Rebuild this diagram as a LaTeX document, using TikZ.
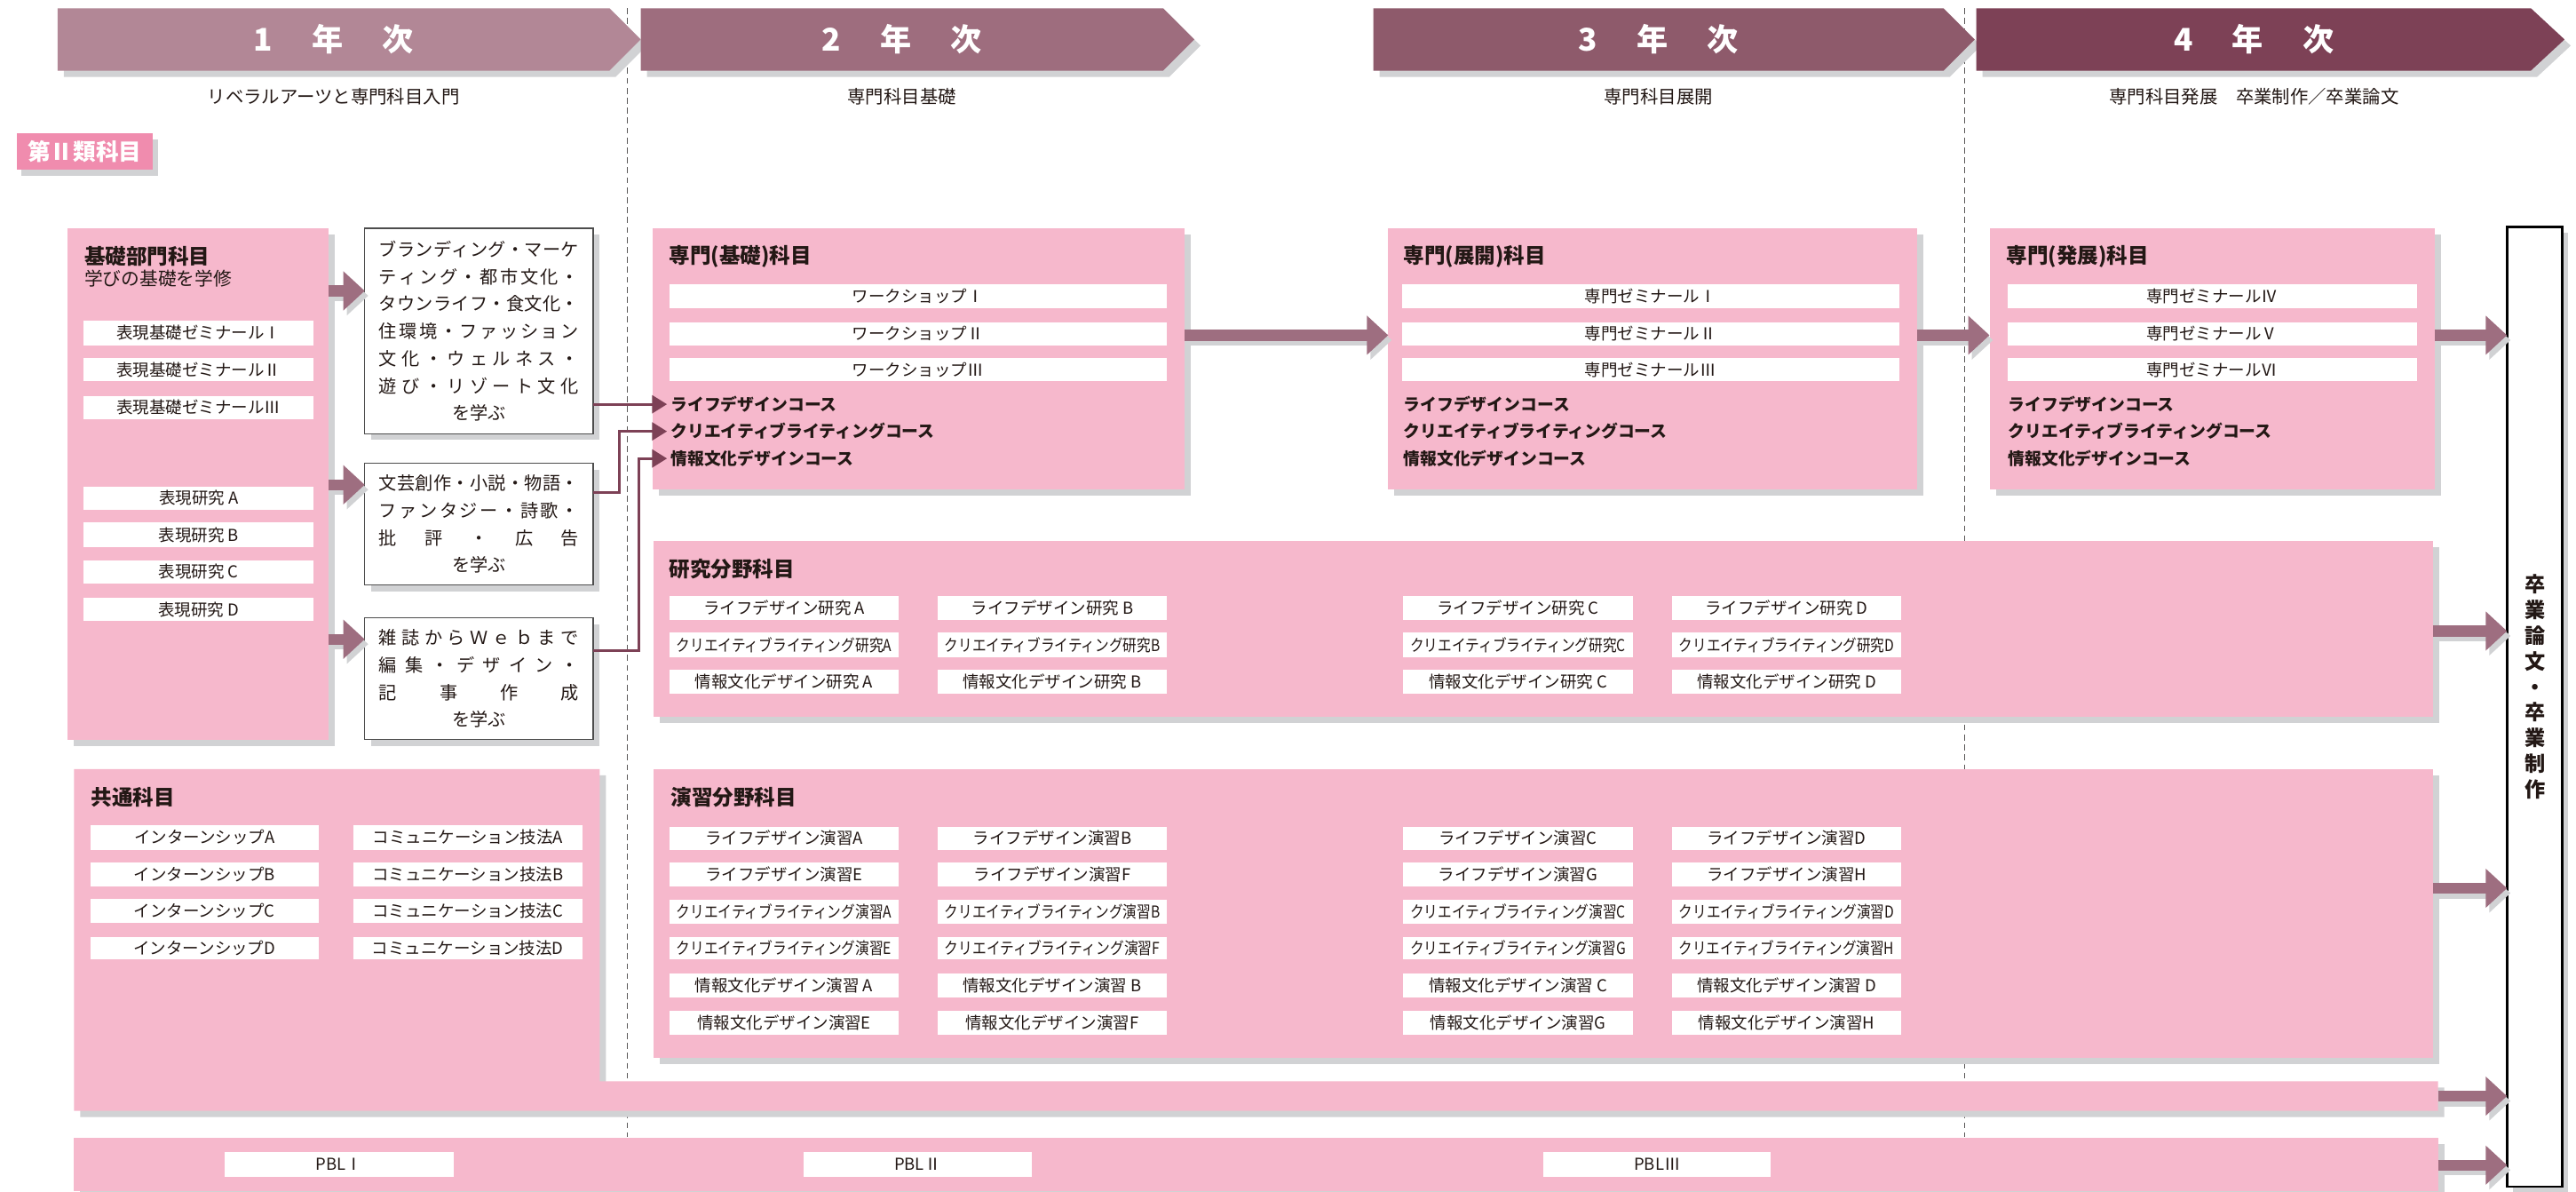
\documentclass[tikz,border=0pt]{standalone}
\usepackage{fontspec}
\setmainfont{Noto Sans CJK JP}
\usepackage{graphicx}
\usetikzlibrary{arrows.meta,shadows,fit}

\definecolor{pinkbox}{HTML}{F6B8CC}
\definecolor{shadowg}{HTML}{D1D2D4}
\definecolor{ban1}{HTML}{B28796}
\definecolor{ban2}{HTML}{9E6D7E}
\definecolor{ban3}{HTML}{8E5A6B}
\definecolor{ban4}{HTML}{7D4156}
\definecolor{arrowc}{HTML}{9E6E80}
\definecolor{linec}{HTML}{7D4156}
\definecolor{labelpink}{HTML}{F08CAE}
\definecolor{txt}{HTML}{231815}
\definecolor{boxline}{HTML}{4D4D4D}
\definecolor{dashc}{HTML}{595757}

\def\P{0.185mm}
\newcommand\fsz[2]{\fontsize{#1}{#2}\selectfont}
\newcommand\rowfont{\fsz{5.26}{6.3}}
\newcommand\titlefont{\bfseries\fsz{6.7}{8}}
\newcommand\coursefont{\bfseries\fsz{5.35}{6.4}}
\newcommand\boxfont{\fsz{5.75}{8.74}}

\newsavebox\fitbox
\newcommand\fitto[2]{\sbox\fitbox{#2}\ifdim\wd\fitbox>#1\relax\resizebox{#1}{\height}{\usebox\fitbox}\else\usebox\fitbox\fi}

\def\gobbleone#1{}
\def\sprd#1{#1\futurelet\sprdnext\sprdaux}
\def\sprdaux{\ifx\sprdnext\relax\expandafter\gobbleone\else\hfil\expandafter\sprd\fi}
\newcommand\jl[1]{\leavevmode\hbox to 64pt{\sprd#1\relax}}

\tikzset{
  boxshadow/.style={drop shadow={shadow xshift=0.7mm, shadow yshift=-0.7mm, fill=shadowg, opacity=1}},
  pinkb/.style={fill=pinkbox, inner sep=0pt, outer sep=0pt, boxshadow},
  rowbox/.style={fill=white, inner sep=0pt, outer sep=0pt, text=txt, font=\rowfont, anchor=north west},
  wbox/.style={fill=white, draw=boxline, line width=0.15mm, inner sep=0pt, outer sep=0pt, boxshadow},
  titletext/.style={anchor=west, inner sep=0pt, text=txt, font=\titlefont},
  course/.style={anchor=west, inner sep=0.37mm, text=txt, font=\coursefont},
  bigarr/.style={draw=arrowc, line width=1.24mm, -{Triangle[length=2.4mm, width=4.26mm]}},
  bigsh/.style={draw=shadowg, line width=1.24mm, -{Triangle[length=2.4mm, width=4.26mm]}, transform canvas={xshift=0.4mm, yshift=-0.55mm}},
  conn/.style={draw=linec, line width=0.28mm, -{Triangle[length=1.67mm, width=2.0mm]}},
  dashline/.style={draw=dashc, line width=0.1mm, dash pattern=on 0.67mm off 0.45mm},
  bantext/.style={text=white, font=\bfseries\fsz{10}{12}, inner sep=0pt},
  subhead/.style={text=txt, font=\fsz{5.8}{7}, inner sep=0pt}
}
\newcommand\rb[6]{\node[rowbox, minimum width={(#4-#2)*\P}, minimum height={(#5-#3)*\P}] (#1) at (#2,#3) {\fitto{69pt}{#6}};}
\newcommand\bigarrow[2]{\draw[bigsh] #1 -- #2; \draw[bigarr] #1 -- #2;}

\begin{document}
\begin{tikzpicture}[x=0.185mm, y=-0.185mm]
\path[use as bounding box, fill=white] (0,0) rectangle (1568,725);

% dashed year separators
\coordinate (d1t) at (382,5); \coordinate (d1b) at (382,692);
\coordinate (d2t) at (1196,5); \coordinate (d2b) at (1196,692);
\draw[dashline] (d1t) -- (d1b);
\draw[dashline] (d2t) -- (d2b);

% banners
\fill[ban1, boxshadow] (35,5) -- (371,5) -- (390,24) -- (371,43) -- (35,43) -- cycle;
\fill[ban2, boxshadow] (390,5) -- (708,5) -- (727,24) -- (708,43) -- (390,43) -- cycle;
\fill[ban3, boxshadow] (836,5) -- (1183,5) -- (1202,24) -- (1183,43) -- (836,43) -- cycle;
\fill[ban4, boxshadow] (1203,5) -- (1540.5,5) -- (1561,24) -- (1540.5,43) -- (1203,43) -- cycle;
\node[bantext] (b1) at (203,24) {1\hspace{1.25em}年\hspace{1.25em}次};
\node[bantext] (b2) at (549,24) {2\hspace{1.25em}年\hspace{1.25em}次};
\node[bantext] (b3) at (1009.5,24) {3\hspace{1.25em}年\hspace{1.25em}次};
\node[bantext] (b4) at (1372,24) {4\hspace{1.25em}年\hspace{1.25em}次};
\node[subhead] (s1) at (203,58.6) {リベラルアーツと専門科目入門};
\node[subhead] (s2) at (549,58.6) {専門科目基礎};
\node[subhead] (s3) at (1009.5,58.6) {専門科目展開};
\node[subhead] (s4) at (1372,58.6) {専門科目発展　卒業制作／卒業論文};

% category label
\node[fill=labelpink, inner sep=0pt, outer sep=0pt, drop shadow={shadow xshift=0.55mm, shadow yshift=-0.7mm, fill=shadowg, opacity=1}, fit={(10,81) (93,103)}] (cat) {};
\node[text=white, font=\bfseries\fsz{7.3}{8.5}, inner sep=0pt] (catT) at (cat.center) {第Ⅱ類科目};

% ---------- big boxes ----------
\node[pinkb, fit={(41,139) (200,450)}] (kiso) {};
\node[wbox, fit={(222,139) (361,264)}] (tb1) {};
\node[wbox, fit={(222,282) (361,356)}] (tb2) {};
\node[wbox, fit={(222,376) (361,450)}] (tb3) {};
\node[pinkb, fit={(397.5,139) (721,298)}] (senA) {};
\node[pinkb, fit={(845,139) (1167,298)}] (senB) {};
\node[pinkb, fit={(1211,139) (1482,298)}] (senC) {};
\node[pinkb, fit={(398,329) (1481,436)}] (kenkyu) {};
\node[pinkb, fit={(398,468) (1481,644)}] (enshu) {};
\fill[pinkbox, boxshadow] (45,468) -- (365,468) -- (365,658) -- (1484,658) -- (1484,676) -- (45,676) -- cycle;
\coordinate (kyotsuEnd) at (1484,667);
\node[pinkb, fit={(45,692.5) (1484,725)}] (pbl) {};
\node[fill=white, draw=black, line width=0.25mm, inner sep=0pt, outer sep=0pt, boxshadow, fit={(1526,138) (1559.5,722)}] (grad) {};
\node[font=\bfseries\fsz{6.6}{8.2}, align=center, text=txt, inner sep=0pt] (gradT) at (1543,418) {卒\\業\\論\\文\\・\\卒\\業\\制\\作};

% ---------- kiso ----------
\node[titletext] (kisoT) at (51,156) {基礎部門科目};
\node[anchor=west, inner sep=0pt, text=txt, font=\fsz{5.9}{7}] (kisoS) at (51,169.5) {学びの基礎を学修};
\rb{kr1}{51}{195}{191}{210}{表現基礎ゼミナールⅠ}
\rb{kr2}{51}{218}{191}{232}{表現基礎ゼミナールⅡ}
\rb{kr3}{51}{241}{191}{255}{表現基礎ゼミナールⅢ}
\rb{kr4}{51}{296}{191}{310}{表現研究 A}
\rb{kr5}{51}{318}{191}{333}{表現研究 B}
\rb{kr6}{51}{341}{191}{355}{表現研究 C}
\rb{kr7}{51}{364}{191}{378}{表現研究 D}

\node[font=\boxfont, text=txt, align=center, text width=64pt, inner sep=0pt] (tb1T) at (tb1.center)
 {\jl{ブランディング・マーケ}\\\jl{ティング・都市文化・}\\\jl{タウンライフ・食文化・}\\\jl{住環境・ファッション}\\\jl{文化・ウェルネス・}\\\jl{遊び・リゾート文化}\\を学ぶ};
\node[font=\boxfont, text=txt, align=center, text width=64pt, inner sep=0pt] (tb2T) at (tb2.center)
 {\jl{文芸創作・小説・物語・}\\\jl{ファンタジー・詩歌・}\\\jl{批評・広告}\\を学ぶ};
\node[font=\boxfont, text=txt, align=center, text width=64pt, inner sep=0pt] (tb3T) at (tb3.center)
 {\jl{雑誌からＷｅｂまで}\\\jl{編集・デザイン・}\\\jl{記事作成}\\を学ぶ};

% ---------- senmon ----------
\node[titletext] (senAT) at (407,156) {専門(基礎)科目};
\node[titletext] (senBT) at (854,156) {専門(展開)科目};
\node[titletext] (senCT) at (1221,156) {専門(発展)科目};
\rb{wa1}{407.5}{173}{710}{187.5}{ワークショップⅠ}
\rb{wa2}{407.5}{196}{710}{210}{ワークショップⅡ}
\rb{wa3}{407.5}{218}{710}{232}{ワークショップⅢ}
\rb{wb1}{853.5}{173}{1156}{187.5}{専門ゼミナールⅠ}
\rb{wb2}{853.5}{196}{1156}{210}{専門ゼミナールⅡ}
\rb{wb3}{853.5}{218}{1156}{232}{専門ゼミナールⅢ}
\rb{wc1}{1222}{173}{1471}{187.5}{専門ゼミナールⅣ}
\rb{wc2}{1222}{196}{1471}{210}{専門ゼミナールⅤ}
\rb{wc3}{1222}{218}{1471}{232}{専門ゼミナールⅥ}
\node[course] (ca1) at (406,246) {ライフデザインコース};
\node[course] (ca2) at (406,262.5) {クリエイティブライティングコース};
\node[course] (ca3) at (406,279) {情報文化デザインコース};
\node[course] (cb1) at (852,246) {ライフデザインコース};
\node[course] (cb2) at (852,262.5) {クリエイティブライティングコース};
\node[course] (cb3) at (852,279) {情報文化デザインコース};
\node[course] (cc1) at (1220,246) {ライフデザインコース};
\node[course] (cc2) at (1220,262.5) {クリエイティブライティングコース};
\node[course] (cc3) at (1220,279) {情報文化デザインコース};

% ---------- kenkyu ----------
\node[titletext] (kenT) at (407,346) {研究分野科目};
\foreach \c/\xa/\xb/\L in {1/407.5/547/A, 2/571/710/B, 3/854/994/C, 4/1018/1157/D}{
  \rb{k1\c}{\xa}{362.7}{\xb}{377}{ライフデザイン研究 \L}
  \rb{k2\c}{\xa}{385}{\xb}{400}{クリエイティブライティング研究\L}
  \rb{k3\c}{\xa}{407.6}{\xb}{422}{情報文化デザイン研究 \L}
}

% ---------- enshu ----------
\node[titletext] (ensT) at (408,485) {演習分野科目};
\foreach \c/\xa/\xb/\La/\Lb in {1/407.5/547/A/E, 2/571/710/B/F, 3/854/994/C/G, 4/1018/1157/D/H}{
  \rb{e1\c}{\xa}{503}{\xb}{517}{ライフデザイン演習\La}
  \rb{e2\c}{\xa}{525}{\xb}{539.5}{ライフデザイン演習\Lb}
  \rb{e3\c}{\xa}{547.6}{\xb}{562}{クリエイティブライティング演習\La}
  \rb{e4\c}{\xa}{570}{\xb}{584}{クリエイティブライティング演習\Lb}
  \rb{e5\c}{\xa}{592.4}{\xb}{607}{情報文化デザイン演習 \La}
  \rb{e6\c}{\xa}{615}{\xb}{629.7}{情報文化デザイン演習\Lb}
}

% ---------- kyotsu ----------
\node[titletext] (kyoT) at (55,485) {共通科目};
\foreach \r/\ya/\yb/\L in {1/502/517/A, 2/525/539.5/B, 3/547/561.6/C, 4/570/584/D}{
  \rb{ki\r}{55}{\ya}{194}{\yb}{インターンシップ\L}
  \rb{kc\r}{215}{\ya}{354.5}{\yb}{コミュニケーション技法\L}
}

% ---------- PBL ----------
\rb{p1}{137}{701}{276}{716}{PBLⅠ}
\rb{p2}{489}{701}{628}{716}{PBLⅡ}
\rb{p3}{939.5}{701}{1078}{716}{PBLⅢ}

% ---------- arrows ----------
\coordinate (yA1) at (0,177);
\coordinate (yA2) at (0,295);
\coordinate (yA3) at (0,389);
\coordinate (yR1) at (0,204);
\coordinate (yR2) at (0,384);
\coordinate (yR3) at (0,540.5);
\coordinate (yR5) at (0,709);
\bigarrow{(kiso.east |- yA1)}{(tb1.west |- yA1)}
\bigarrow{(kiso.east |- yA2)}{(tb2.west |- yA2)}
\bigarrow{(kiso.east |- yA3)}{(tb3.west |- yA3)}
\bigarrow{(senA.east |- yR1)}{(senB.west |- yR1)}
\bigarrow{(senB.east |- yR1)}{(senC.west |- yR1)}
\bigarrow{(senC.east |- yR1)}{(grad.west |- yR1)}
\bigarrow{(kenkyu.east |- yR2)}{(grad.west |- yR2)}
\bigarrow{(enshu.east |- yR3)}{(grad.west |- yR3)}
\bigarrow{(kyotsuEnd)}{(grad.west |- kyotsuEnd)}
\bigarrow{(pbl.east |- yR5)}{(grad.west |- yR5)}

\coordinate (yC2) at (0,299.5);
\coordinate (yC3) at (0,395.7);
\draw[conn] (tb1.east |- ca1) -- (ca1.west);
\draw[conn] (tb2.east |- yC2) -- ++(16,0) |- (ca2.west);
\draw[conn] (tb3.east |- yC3) -- ++(28,0) |- (ca3.west);
\end{tikzpicture}
\end{document}
